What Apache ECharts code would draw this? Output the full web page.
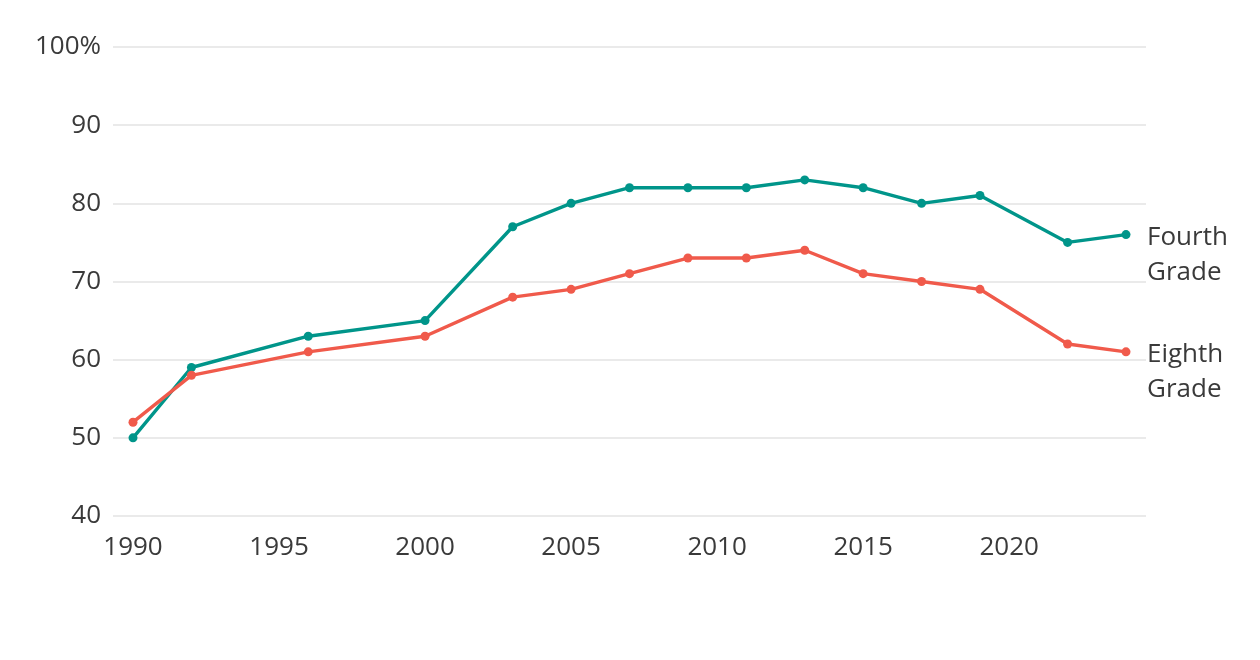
<!DOCTYPE html>
<html>
<head>
<meta charset="utf-8">
<script src="https://cdn.jsdelivr.net/npm/echarts@6/dist/echarts.min.js"></script>
<style>html,body{margin:0;padding:0;background:#fff;}#c{width:1260px;height:660px;}</style>
</head>
<body>
<div id="c"></div>
<script>
const years = [1990, 1992, 1996, 2000, 2003, 2005, 2007, 2009, 2011, 2013, 2015, 2017, 2019, 2022, 2024];
const fourthGrade = [50, 59, 63, 65, 77, 80, 82, 82, 82, 83, 82, 80, 81, 75, 76];
const eighthGrade = [52, 58, 61, 63, 68, 69, 71, 73, 73, 74, 71, 70, 69, 62, 61];
const xTickLabels = [1990, 1995, 2000, 2005, 2010, 2015, 2020];
const yTicks = [40, 50, 60, 70, 80, 90, 100];

const font = '"Open Sans", "Noto Sans", sans-serif';
const chart = echarts.init(document.getElementById('c'));
function pairs(vals){ return years.map((y,i)=>[y, vals[i]]); }
chart.setOption({
  animation: false,
  grid: {left: 113, right: 114, top: 47, bottom: 144},
  xAxis: {
    type: 'value', min: 1989.315, max: 2024.685,
    axisLine: {show: false}, axisTick: {show: false}, splitLine: {show: false},
    axisLabel: {customValues: xTickLabels, color: '#3a3a3a', fontSize: 26, fontFamily: font, margin: 19,
      formatter: v => String(v)}
  },
  yAxis: {
    type: 'value', min: 40, max: 100, interval: 10,
    axisLine: {show: false}, axisTick: {show: false},
    splitLine: {lineStyle: {color: '#e3e3e3', width: 1.5}},
    axisLabel: {customValues: yTicks, color: '#3a3a3a', fontSize: 26, fontFamily: font, margin: 12,
      formatter: v => v === 100 ? '100%' : String(v)}
  },
  series: [
    {
      name: 'Fourth Grade', type: 'line', data: pairs(fourthGrade),
      symbol: 'circle', symbolSize: 9, color: '#00958a',
      lineStyle: {width: 3.4}, itemStyle: {color: '#00958a'},
      endLabel: {show: true, formatter: 'Fourth\nGrade', color: '#3a3a3a', fontSize: 26, fontFamily: font,
        lineHeight: 35, align: 'left', verticalAlign: 'middle', offset: [13, 20]}
    },
    {
      name: 'Eighth Grade', type: 'line', data: pairs(eighthGrade),
      symbol: 'circle', symbolSize: 9, color: '#f05a4b',
      lineStyle: {width: 3.4}, itemStyle: {color: '#f05a4b'},
      endLabel: {show: true, formatter: 'Eighth\nGrade', color: '#3a3a3a', fontSize: 26, fontFamily: font,
        lineHeight: 35, align: 'left', verticalAlign: 'middle', offset: [13, 20]}
    }
  ]
});
</script>
</body>
</html>
